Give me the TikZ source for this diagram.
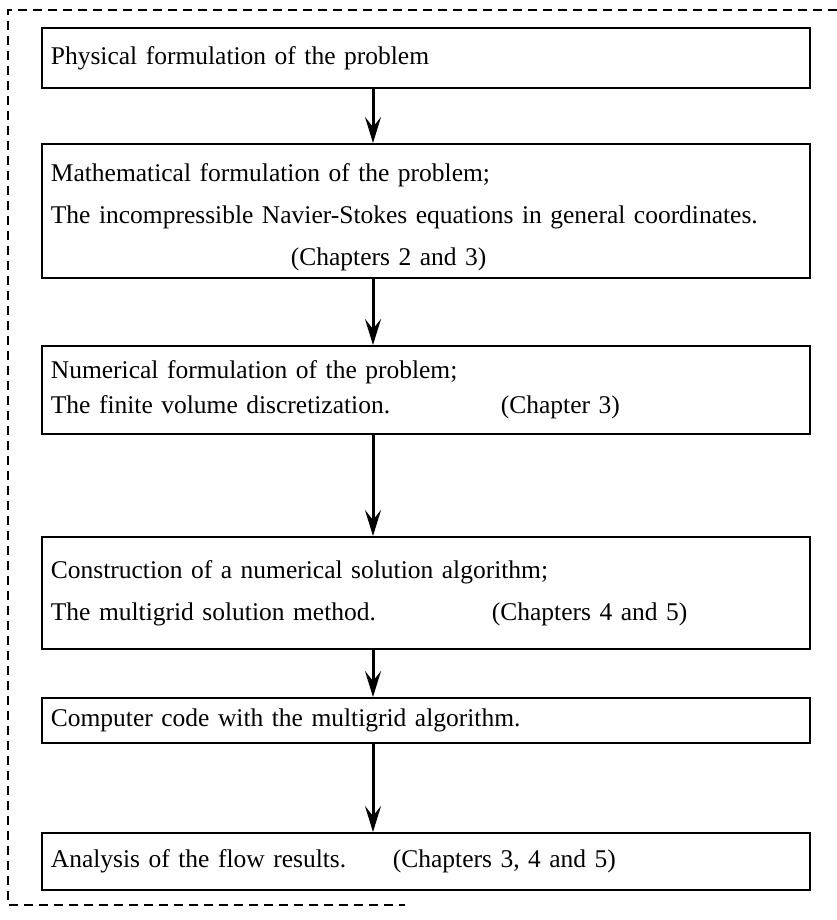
\documentclass[tikz,border=0pt]{standalone}
\usepackage{fontspec}
\setmainfont{Liberation Serif}
\usetikzlibrary{arrows.meta}

\tikzset{
  stagebox/.style={draw, line width=1.8pt, anchor=north west, inner xsep=9pt, inner ysep=0pt,
    text width=750pt, align=left, font=\fontsize{25.5}{40}\selectfont},
  flow/.style={line width=3pt, -{Stealth[length=26pt,width=16pt,inset=10pt]}},
  frame/.style={dash pattern=on 9pt off 6pt, line width=1.4pt}
}

\begin{document}
\begin{tikzpicture}[x=1pt, y=-1pt]
    \useasboundingbox (0,0) rectangle (837,920);
    % Dashed frame, open on the right
    \draw[frame] (837,10) -- (8,10) -- (8,905) -- (405,905);

    % Stages
    \node[stagebox, minimum height=60pt] (phys) at (41,27)
        {Physical formulation of the problem};
    \node[stagebox, minimum height=134pt, font=\fontsize{25.5}{42}\selectfont] (math) at (41,143)
        {\rule{0pt}{30pt}Mathematical formulation of the problem;\\
         The incompressible Navier-Stokes equations in general coordinates.\\
         \hspace*{240pt}(Chapters 2 and 3)};
    \node[stagebox, minimum height=88pt, font=\fontsize{25.5}{35}\selectfont] (numer) at (41,345)
        {Numerical formulation of the problem;\\
         \makebox[450pt][l]{The finite volume discretization.}(Chapter 3)};
    \node[stagebox, minimum height=112pt, font=\fontsize{25.5}{42}\selectfont] (algo) at (41,536)
        {Construction of a numerical solution algorithm;\\
         \makebox[441pt][l]{The multigrid solution method.}(Chapters 4 and 5)};
    \node[stagebox, minimum height=45pt] (code) at (41,697)
        {Computer code with the multigrid algorithm.};
    \node[stagebox, minimum height=57pt] (analysis) at (41,832)
        {\makebox[342pt][l]{Analysis of the flow results.}(Chapters 3, 4 and 5)};

    % Flow of the work
    \coordinate (ax) at (373,0);
    \draw[flow] (phys.south -| ax) -- (math.north -| ax);
    \draw[flow] (math.south -| ax) -- (numer.north -| ax);
    \draw[flow] (numer.south -| ax) -- (algo.north -| ax);
    \draw[flow] (algo.south -| ax) -- (code.north -| ax);
    \draw[flow] (code.south -| ax) -- (analysis.north -| ax);
\end{tikzpicture}
\end{document}
